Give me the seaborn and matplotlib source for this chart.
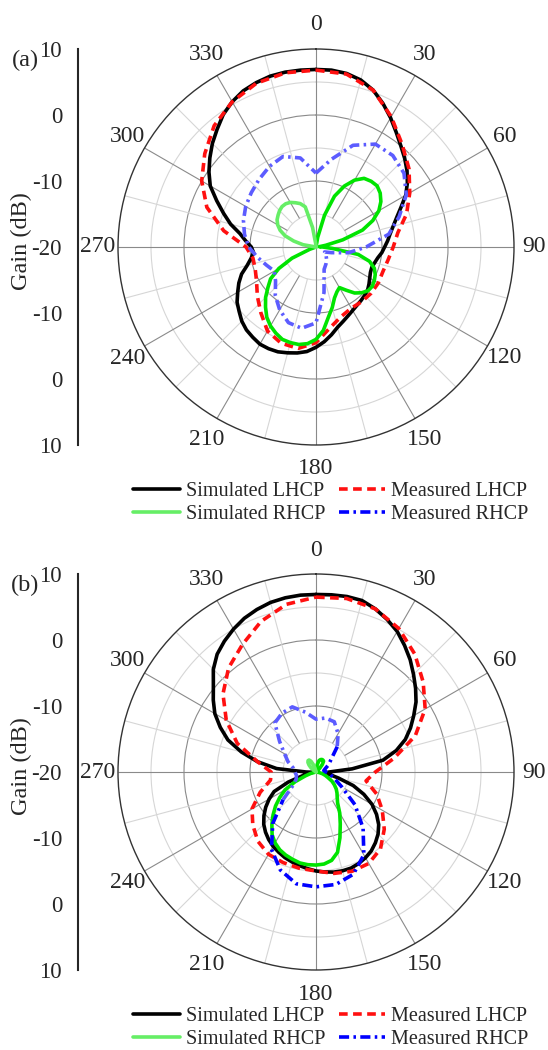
import numpy as np
import pandas as pd
import matplotlib
matplotlib.use("Agg")
import matplotlib.pyplot as plt
import seaborn as sns
from matplotlib.lines import Line2D
from matplotlib.ticker import MultipleLocator

sns.set_style("white")
plt.rcParams['font.family'] = ['Liberation Serif', 'DejaVu Serif']

# ---------------- data ----------------
angles_sim = list(range(0, 360, 5))     # simulated curves, every 5 deg
angles_meas = list(range(0, 360, 10))   # measured curves, every 10 deg

# panel (a)
a_sim_lhcp = [6.9, 6.9, 6.7, 6.2, 5.3, 4.0, 2.6, 1.2, 0.0, -1.0, -2.0, -3.1,
              -4.3, -5.8, -7.0, -7.9, -8.6, -9.1, -9.6, -10.0, -10.5, -10.8, -11.0, -10.9,
              -10.6, -10.2, -9.8, -9.6, -9.4, -9.2, -8.9, -8.5, -8.0, -7.4, -6.5, -5.6,
              -4.8, -4.1, -3.7, -3.4, -3.1, -3.0, -3.0, -3.3, -3.6, -4.1, -4.8, -5.4,
              -6.3, -7.1, -8.0, -9.2, -10.0, -10.5, -10.2, -9.3, -8.3, -6.6, -5.1, -3.4,
              -1.5, -0.2, 1.0, 2.2, 3.3, 4.5, 5.4, 6.1, 6.5, 6.8, 6.9, 6.9]
a_sim_rhcp = [-20.0, -20.0, -18.5, -15.0, -11.8, -9.8, -8.3, -7.3, -7.0, -6.9, -7.3, -8.0,
              -9.0, -10.5, -12.5, -15.8, -18.5, -19.5, -19.0, -17.5, -13.5, -11.6, -10.6, -10.1,
              -9.8, -9.6, -9.7, -10.2, -10.9, -12.0, -12.9, -12.5, -11.8, -10.5, -9.2, -7.3,
              -6.0, -5.3, -5.0, -5.0, -5.1, -5.6, -6.2, -7.0, -8.1, -9.2, -10.5, -11.6,
              -13.5, -16.0, -19.0, -20.0, -20.0, -20.0, -20.0, -20.0, -18.0, -16.5, -15.0, -14.0,
              -13.3, -12.8, -12.5, -12.2, -12.0, -12.0, -12.2, -12.6, -13.0, -13.7, -17.0, -19.5]
a_meas_lhcp = [6.8, 6.6, 5.3, 2.8, 0.3, -1.6, -3.6, -5.4, -7.4, -8.3, -8.9, -9.2,
               -9.1, -9.1, -9.2, -9.3, -8.8, -7.6, -5.5, -4.4, -4.5, -5.3, -7.0, -8.4,
               -9.6, -10.2, -10.3, -9.4, -5.8, -2.4, 0.0, 2.0, 4.0, 5.4, 6.4, 6.8]
a_meas_rhcp = [-8.8, -6.5, -3.6, -2.0, -1.9, -2.6, -4.2, -6.6, -8.8, -12.4, -15.0, -17.5,
               -18.5, -18.0, -17.5, -17.0, -16.4, -13.0, -8.5, -7.5, -7.8, -9.0, -10.4, -12.0,
               -12.7, -12.0, -11.0, -9.8, -9.0, -8.3, -7.7, -7.2, -6.6, -5.9, -5.4, -6.3]

# panel (b)
b_sim_lhcp = [6.9, 6.95, 7.0, 6.9, 6.3, 5.5, 4.6, 3.4, 2.2, 0.9, -0.3, -1.5,
              -2.9, -4.2, -5.6, -7.4, -9.7, -14.5, -18.0, -18.5, -18.0, -16.5, -14.0, -12.0,
              -10.2, -8.8, -7.6, -6.7, -6.0, -5.4, -5.0, -4.7, -4.5, -4.5, -4.6, -4.8,
              -5.0, -5.3, -5.6, -5.9, -6.2, -6.6, -7.0, -7.5, -8.1, -8.8, -9.7, -10.7,
              -11.8, -13.0, -15.5, -18.0, -19.0, -19.5, -18.5, -14.0, -11.0, -8.3, -5.8, -4.0,
              -2.3, -1.0, 0.3, 2.0, 3.3, 4.2, 5.0, 5.7, 6.2, 6.6, 6.8, 6.9]
b_sim_rhcp = [-20.0, -19.5, -18.8, -18.2, -18.0, -17.9, -17.9, -18.0, -18.5, -19.2, -19.8, -20.0,
              -20.0, -20.0, -20.0, -20.0, -20.0, -20.0, -20.0, -20.0, -19.5, -19.0, -18.5, -18.0,
              -17.2, -16.6, -16.0, -15.5, -15.0, -14.3, -12.8, -11.3, -9.4, -7.4, -6.4, -6.0,
              -5.9, -5.9, -6.0, -6.3, -6.6, -7.0, -7.6, -8.4, -9.6, -10.8, -12.0, -13.3,
              -14.6, -16.5, -18.3, -19.2, -20.0, -20.0, -20.0, -20.0, -20.0, -20.0, -20.0, -20.0,
              -20.0, -19.6, -19.0, -18.5, -18.1, -17.9, -17.9, -18.2, -18.8, -19.4, -19.8, -20.0]
b_meas_lhcp = [6.5, 6.7, 6.3, 5.1, 3.3, 1.2, -0.9, -4.0, -8.0, -11.0, -12.3, -10.2,
               -8.4, -6.5, -4.8, -4.0, -4.0, -4.4, -5.0, -5.2, -5.4, -5.6, -6.3, -7.5,
               -8.8, -11.0, -13.0, -13.2, -11.0, -7.3, -4.3, -1.6, 0.6, 2.3, 4.3, 5.8]
b_meas_rhcp = [-12.0, -11.7, -11.9, -13.3, -15.0, -17.0, -17.8, -18.5, -18.8, -18.5, -17.8, -17.0,
               -15.5, -12.3, -8.9, -5.5, -3.5, -2.7, -2.6, -2.8, -4.2, -6.5, -9.8, -13.5,
               -16.0, -16.8, -17.0, -16.8, -16.5, -15.5, -14.5, -12.8, -10.3, -9.7, -9.5, -10.8]

angle_ticks = list(range(0, 360, 30))
angle_labels = [str(a) for a in angle_ticks]
ring_values = [-15, -10, -5, 0, 5]
gain_ticks = [10, 0, -10, -20, -10, 0, 10]
legend_labels = ["Simulated LHCP", "Simulated RHCP", "Measured LHCP", "Measured RHCP"]

# ---------------- style ----------------
BLACK = "#000000"
RED = "#ff1010"
GREEN = "#00e400"
LGREEN = "#66ee66"
BLUE = "#0000ff"
LBLUE = "#5c5cff"
DASH = (0, (2.4, 1.5))
DASHDOT = (0, (2.8, 1.2, 0.7, 1.2))
LW = 2.6

W, H = 548, 1050
R = 198
fig = plt.figure(figsize=(W / 100, H / 100), dpi=100)


def segment(ang, vals, rng=None):
    ang = np.asarray(ang, float)
    vals = np.asarray(vals, float)
    if rng is None:
        th = np.append(ang, 360.0)
        rr = np.append(vals, vals[0])
    else:
        lo, hi = rng
        if lo <= hi:
            m = (ang >= lo) & (ang <= hi)
            th, rr = ang[m], vals[m]
        else:
            m1 = ang >= lo
            m2 = ang <= hi
            th = np.concatenate([ang[m1], ang[m2] + 360.0])
            rr = np.concatenate([vals[m1], vals[m2]])
    return pd.DataFrame({"theta": np.deg2rad(th), "gain": rr})


def draw(ax, ang, vals, color, ls="-", rng=None, z=2):
    df = segment(ang, vals, rng)
    sns.lineplot(data=df, x="theta", y="gain", ax=ax, sort=False, estimator=None,
                 color=color, linewidth=LW, linestyle=ls, zorder=z)


def panel(cy, tag, sim_l, sim_r, meas_l, meas_r, green_split, blue_split):
    cx = 316
    rect = [(cx - R) / W, 1 - (cy + R) / H, 2 * R / W, 2 * R / H]
    ax = fig.add_axes(rect, projection="polar")
    ax.set_theta_zero_location("N")
    ax.set_theta_direction(-1)

    # radial grid lines
    ax.vlines(np.deg2rad([0, 90, 180, 270]), -20, 10, colors="#8a8a8a", lw=0.8, zorder=1)
    ax.vlines(np.deg2rad([30, 60, 120, 150, 210, 240, 300, 330]), -15, 10,
              colors="#8a8a8a", lw=0.8, zorder=1)
    ax.vlines(np.deg2rad(list(range(15, 360, 30))), -15, 10, colors="#d6d6d6", lw=0.8, zorder=1)

    # curves
    draw(ax, angles_sim, sim_l, BLACK, "-", None, 2)
    draw(ax, angles_meas, meas_l, RED, DASH, None, 3)
    lo, hi = green_split
    draw(ax, angles_sim, sim_r, GREEN, "-", (hi, lo), 4)
    draw(ax, angles_sim, sim_r, LGREEN, "-", (lo, hi), 4)
    if blue_split is None:
        draw(ax, angles_meas, meas_r, LBLUE, DASHDOT, None, 5)
    else:
        blo, bhi = blue_split
        draw(ax, angles_meas, meas_r, BLUE, DASHDOT, (blo, bhi), 5)
        draw(ax, angles_meas, meas_r, LBLUE, DASHDOT, (bhi, blo), 5)

    ax.set_ylim(-20, 10)
    ax.set_yticks(ring_values)
    ax.set_yticklabels([])
    ax.yaxis.grid(True)
    for line, v in zip(ax.yaxis.get_gridlines(), ring_values):
        line.set_color("#8a8a8a" if v in (-10, 0) else "#d6d6d6")
        line.set_linewidth(0.8)
        line.set_linestyle("-")
    ax.set_xticks(np.deg2rad(angle_ticks))
    ax.set_xticklabels([])
    ax.xaxis.grid(False)
    ax.tick_params(axis="x", length=0)
    # angle labels just outside the rim
    for a, lab in zip(angle_ticks, angle_labels):
        t = np.deg2rad(a)
        ax.annotate(lab, xy=(t, 10), xytext=(20 * np.sin(t), 24 * np.cos(t)),
                    textcoords="offset pixels", ha="center", va="center",
                    fontsize=17, annotation_clip=False)
    ax.spines["polar"].set_color("#333333")
    ax.spines["polar"].set_linewidth(1.0)
    ax.set_xlabel("")
    ax.set_ylabel("")

    # left gain axis
    gx = fig.add_axes([78 / W, 1 - (cy + R) / H, 20 / W, 2 * R / H])
    gx.patch.set_visible(False)
    for s in ["top", "right", "bottom"]:
        gx.spines[s].set_visible(False)
    gx.spines["left"].set_linewidth(1.5)
    gx.set_xlim(0, 1)
    gx.set_ylim(-30, 30)
    gx.set_xticks([])
    pos = [g + 20 for g in gain_ticks[:4]] + [-(g + 20) for g in gain_ticks[4:]]
    gx.set_yticks(pos)
    gx.set_yticklabels([str(g) for g in gain_ticks])
    gx.yaxis.set_minor_locator(MultipleLocator(5))
    gx.tick_params(axis="y", which="major", length=9, width=1.5, labelsize=16.5, pad=2.5,
                   direction="out")
    gx.tick_params(axis="y", which="minor", length=4.5, width=1.2, direction="out")

    fig.text(21 / W, 1 - (cy - 6) / H, "Gain (dB)", rotation=90, ha="center", va="center",
             fontsize=17.5)
    fig.text(25 / W, 1 - (cy - 187) / H, tag, ha="center", va="center", fontsize=17.5)

    handles = [Line2D([], [], color=BLACK, lw=LW),
               Line2D([], [], color=LGREEN, lw=LW),
               Line2D([], [], color=RED, lw=LW, ls=DASH),
               Line2D([], [], color=BLUE, lw=LW, ls=DASHDOT)]
    fig.legend(handles, legend_labels, ncol=2, loc="center",
               bbox_to_anchor=(331 / W, 1 - (cy + 256) / H), frameon=False,
               fontsize=14.5, handlelength=2.3, handletextpad=0.3, columnspacing=0.7,
               labelspacing=0.2, borderpad=0.1)


panel(247, "(a)", a_sim_lhcp, a_sim_rhcp, a_meas_lhcp, a_meas_rhcp, (270, 0), None)
panel(772, "(b)", b_sim_lhcp, b_sim_rhcp, b_meas_lhcp, b_meas_rhcp, (270, 0), (40, 230))

fig.savefig("out.png", dpi=100, facecolor="white")
